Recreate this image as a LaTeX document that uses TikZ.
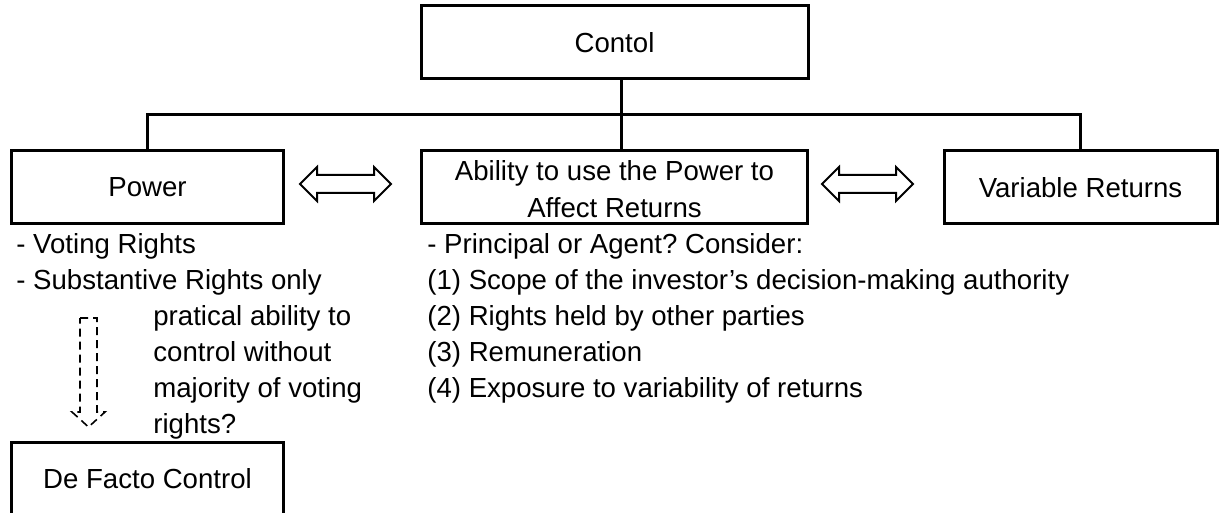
\documentclass[tikz,border=0pt]{standalone}
\usepackage{fontspec}
\setmainfont{Liberation Sans}
\usetikzlibrary{calc}
\frenchspacing

\tikzset{
    box/.style={draw, line width=1.5pt, minimum height=36.5pt, inner sep=0pt,
        align=center, font=\fontsize{13.8}{18.4}\selectfont},
    item/.style={anchor=base west, inner sep=0pt, font=\fontsize{13.8}{18.4}\selectfont},
    hollow/.style={line width=1pt, line join=miter},
    dblarrow/.pic={
        \draw[hollow] (-45.5,0) -- (-28.5,-17) -- (-28.5,-9) -- (28.5,-9) -- (28.5,-17)
            -- (45.5,0) -- (28.5,17) -- (28.5,9) -- (-28.5,9) -- (-28.5,17) -- cycle;
    },
}

\begin{document}
\begin{tikzpicture}[x=0.5pt, y=-0.5pt]
    \useasboundingbox (0,0) rectangle (1219,513);

    % boxes
    \node[box, minimum width=193.5pt] (contol) at (614.5,42.5) {Contol};
    \node[box, minimum width=136pt] (power) at (147.5,187.5) {Power};
    \node[box, minimum width=193pt] (ability) at (614.5,187.5) {\rule{0pt}{11.5pt}Ability to use the Power to\\Affect Returns};
    \node[box, minimum width=136.5pt] (varret) at (1080.5,187.5) {Variable Returns};
    \node[box, minimum width=136pt] (defacto) at (147.5,478.5) {De Facto Control};

    % tree lines
    \coordinate (bus) at (621,115);
    \draw[line width=1.5pt] (power.north) |- (bus) -| (varret.north);
    \draw[line width=1.5pt] (contol.south -| bus) -- (ability.north -| bus);

    % double arrows between the boxes
    \pic (leftarr) at (345.5,184) {dblarrow};
    \pic (rightarr) at (867.5,184) {dblarrow};

    % lists under the boxes
    \foreach \txt [count=\i from 0] in {{- Voting Rights}, {- Substantive Rights only}}
        \node[item] (pw\i) at (16, {253+36*\i}) {\txt};
    \foreach \txt [count=\i from 0] in {{pratical ability to}, {control without},
            {majority of voting}, {rights?}}
        \node[item] (pr\i) at (153, {325+36*\i}) {\txt};
    \foreach \txt [count=\i from 0] in {{- Principal or Agent? Consider:},
            {(1) Scope of the investor’s decision-making authority},
            {(2) Rights held by other parties}, {(3) Remuneration},
            {(4) Exposure to variability of returns}}
        \node[item] (ab\i) at (427, {253+36*\i}) {\txt};

    % dashed hollow arrow down to de facto control
    \draw[line width=0.8pt, dash pattern=on 4pt off 2.5pt] (80,318) -- (97,318) -- (97,412)
        -- (105,412) -- (88.5,427) -- (72,412) -- (80,412) -- cycle;
\end{tikzpicture}
\end{document}
